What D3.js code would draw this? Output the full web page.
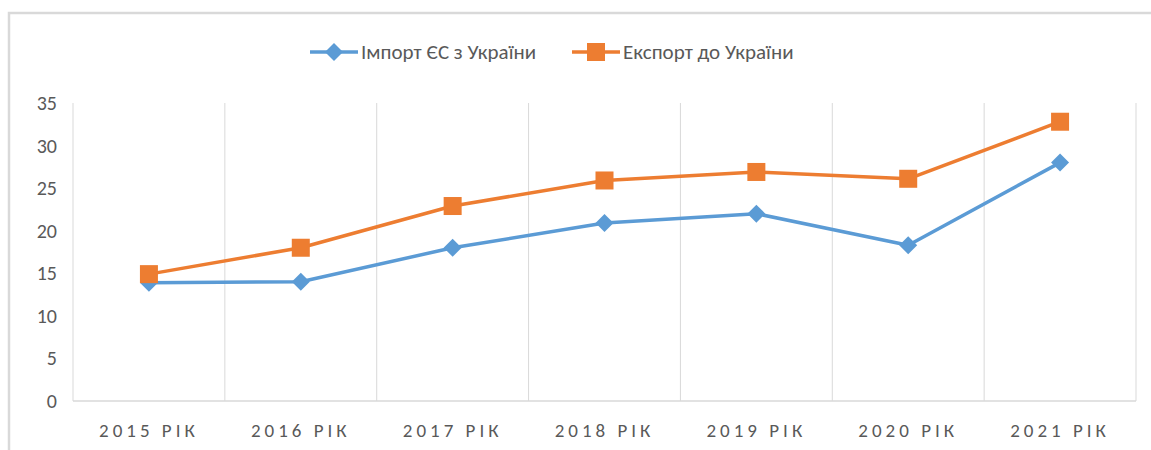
<!DOCTYPE html>
<html>
<head>
<meta charset="utf-8">
<script src="https://cdn.jsdelivr.net/npm/d3@7"></script>
<style>
  body { margin: 0; background: #fff; }
  svg { display: block; font-family: Calibri, Carlito, "Liberation Sans", sans-serif; }
</style>
</head>
<body>
<svg id="chart" width="1151" height="450"></svg>
<script>
  var years = ["2015 РІК", "2016 РІК", "2017 РІК", "2018 РІК", "2019 РІК", "2020 РІК", "2021 РІК"];
  var importValues = [13.9, 14.0, 18.0, 20.9, 22.0, 18.3, 28.0];
  var exportValues = [14.9, 18.0, 22.9, 25.9, 26.9, 26.1, 32.8];
  var yTicks = [0, 5, 10, 15, 20, 25, 30, 35];

  var series = [
    {name: "Імпорт ЄС з України", values: importValues, color: "#5b9bd5", marker: "diamond"},
    {name: "Експорт до України", values: exportValues, color: "#ed7d31", marker: "square"}
  ];

  var svg = d3.select("#chart");
  var margin = {left: 73, right: 15, top: 103, bottom: 49};
  var W = 1151, H = 450;

  // chart frame
  svg.append("path")
    .attr("d", "M9," + H + "V13H" + W)
    .attr("fill", "none")
    .attr("stroke", "#d9d9d9")
    .attr("stroke-width", 2.5);

  var x = d3.scaleBand().domain(years).range([margin.left, W - margin.right]);
  var y = d3.scaleLinear().domain([0, 35]).range([H - margin.bottom, margin.top]);

  // vertical gridlines at category boundaries
  var bounds = years.map(function(d) { return x(d); }).concat([x.range()[1]]);
  svg.append("g").selectAll("line")
    .data(bounds)
    .enter().append("line")
    .attr("x1", function(d) { return d; }).attr("x2", function(d) { return d; })
    .attr("y1", y(35)).attr("y2", y(0))
    .attr("stroke", "#d9d9d9").attr("stroke-width", 1);

  svg.append("line")
    .attr("x1", x.range()[0]).attr("x2", x.range()[1])
    .attr("y1", y(0)).attr("y2", y(0))
    .attr("stroke", "#d9d9d9").attr("stroke-width", 1.5);

  // y labels
  svg.append("g").selectAll("text")
    .data(yTicks)
    .enter().append("text")
    .attr("x", 57)
    .attr("y", function(d) { return y(d); })
    .attr("dy", "0.35em")
    .attr("text-anchor", "end")
    .attr("fill", "#595959")
    .style("font-size", "20px")
    .text(function(d) { return d; });

  // x labels
  svg.append("g").selectAll("text")
    .data(years)
    .enter().append("text")
    .attr("x", function(d) { return x(d) + x.bandwidth() / 2; })
    .attr("y", 437)
    .attr("text-anchor", "middle")
    .attr("fill", "#595959")
    .style("font-size", "19px")
    .style("letter-spacing", "4px")
    .text(function(d) { return d; });

  var line = d3.line()
    .x(function(d, i) { return x(years[i]) + x.bandwidth() / 2; })
    .y(function(d) { return y(d); });

  function drawMarker(g, type, color) {
    if (type === "square") {
      g.append("rect").attr("x", -9).attr("y", -9).attr("width", 18).attr("height", 18)
        .attr("fill", color);
    } else {
      g.append("path").attr("d", "M0,-9L9,0L0,9L-9,0Z").attr("fill", color);
    }
  }

  series.forEach(function(s) {
    svg.append("path")
      .datum(s.values)
      .attr("d", line)
      .attr("fill", "none")
      .attr("stroke", s.color)
      .attr("stroke-width", 3.5)
      .attr("stroke-linejoin", "round");

    svg.append("g").selectAll("g")
      .data(s.values)
      .enter().append("g")
      .attr("transform", function(d, i) {
        return "translate(" + (x(years[i]) + x.bandwidth() / 2) + "," + y(d) + ")";
      })
      .each(function() { drawMarker(d3.select(this), s.marker, s.color); });
  });

  // legend
  var legendX = [310, 572];
  series.forEach(function(s, i) {
    var g = svg.append("g").attr("transform", "translate(" + legendX[i] + ",52)");
    g.append("line").attr("x1", 0).attr("x2", 48).attr("y1", 0).attr("y2", 0)
      .attr("stroke", s.color).attr("stroke-width", 3.5);
    var m = g.append("g").attr("transform", "translate(24,0)");
    drawMarker(m, s.marker, s.color);
    g.append("text")
      .attr("x", 51).attr("y", 0).attr("dy", "0.35em")
      .attr("fill", "#595959")
      .style("font-size", "21px")
      .text(s.name);
  });
</script>
</body>
</html>
